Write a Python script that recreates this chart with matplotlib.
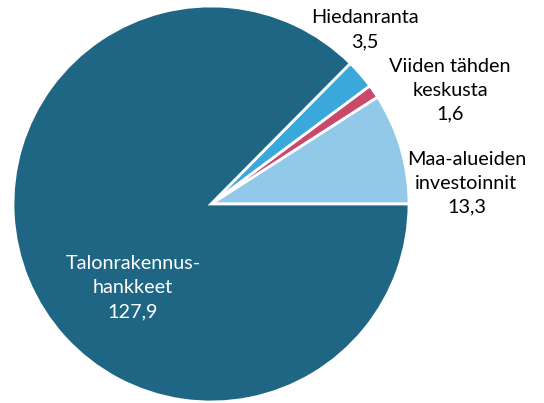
import matplotlib
matplotlib.use("Agg")
import matplotlib.pyplot as plt
import numpy as np

labels = ["Maa-alueiden\ninvestoinnit", "Viiden tähden\nkeskusta", "Hiedanranta", "Talonrakennus-\nhankkeet"]
values = [13.3, 1.6, 3.5, 127.9]
value_labels = ["13,3", "1,6", "3,5", "127,9"]
colors = ["#92C8E8", "#C8496A", "#3BA8DC", "#1E6683"]
text_colors = ["black", "black", "black", "white"]
# label block centres (data units relative to pie radius)
label_pos = [(1.29, 0.106), (1.207, 0.575), (0.775, 0.88), (-0.394, -0.424)]

plt.rcParams['font.family'] = ['Lato', 'DejaVu Sans']

fig = plt.figure(figsize=(5.44, 4.03), dpi=100)
ax = fig.add_axes([13/544, 1/403, 396/544, 396/403])
ax.pie(values, colors=colors, startangle=0, counterclock=True, radius=1,
       wedgeprops=dict(edgecolor="white", linewidth=2))
for lab, v, (x, y), tc in zip(labels, value_labels, label_pos, text_colors):
    ax.text(x, y, lab + "\n" + v, ha="center", va="center", fontsize=14.3,
            color=tc, linespacing=1.5)
ax.set_xlim(-1, 1)
ax.set_ylim(-1, 1)
ax.set_aspect("equal")
ax.axis("off")
fig.savefig("out.png", dpi=100)
